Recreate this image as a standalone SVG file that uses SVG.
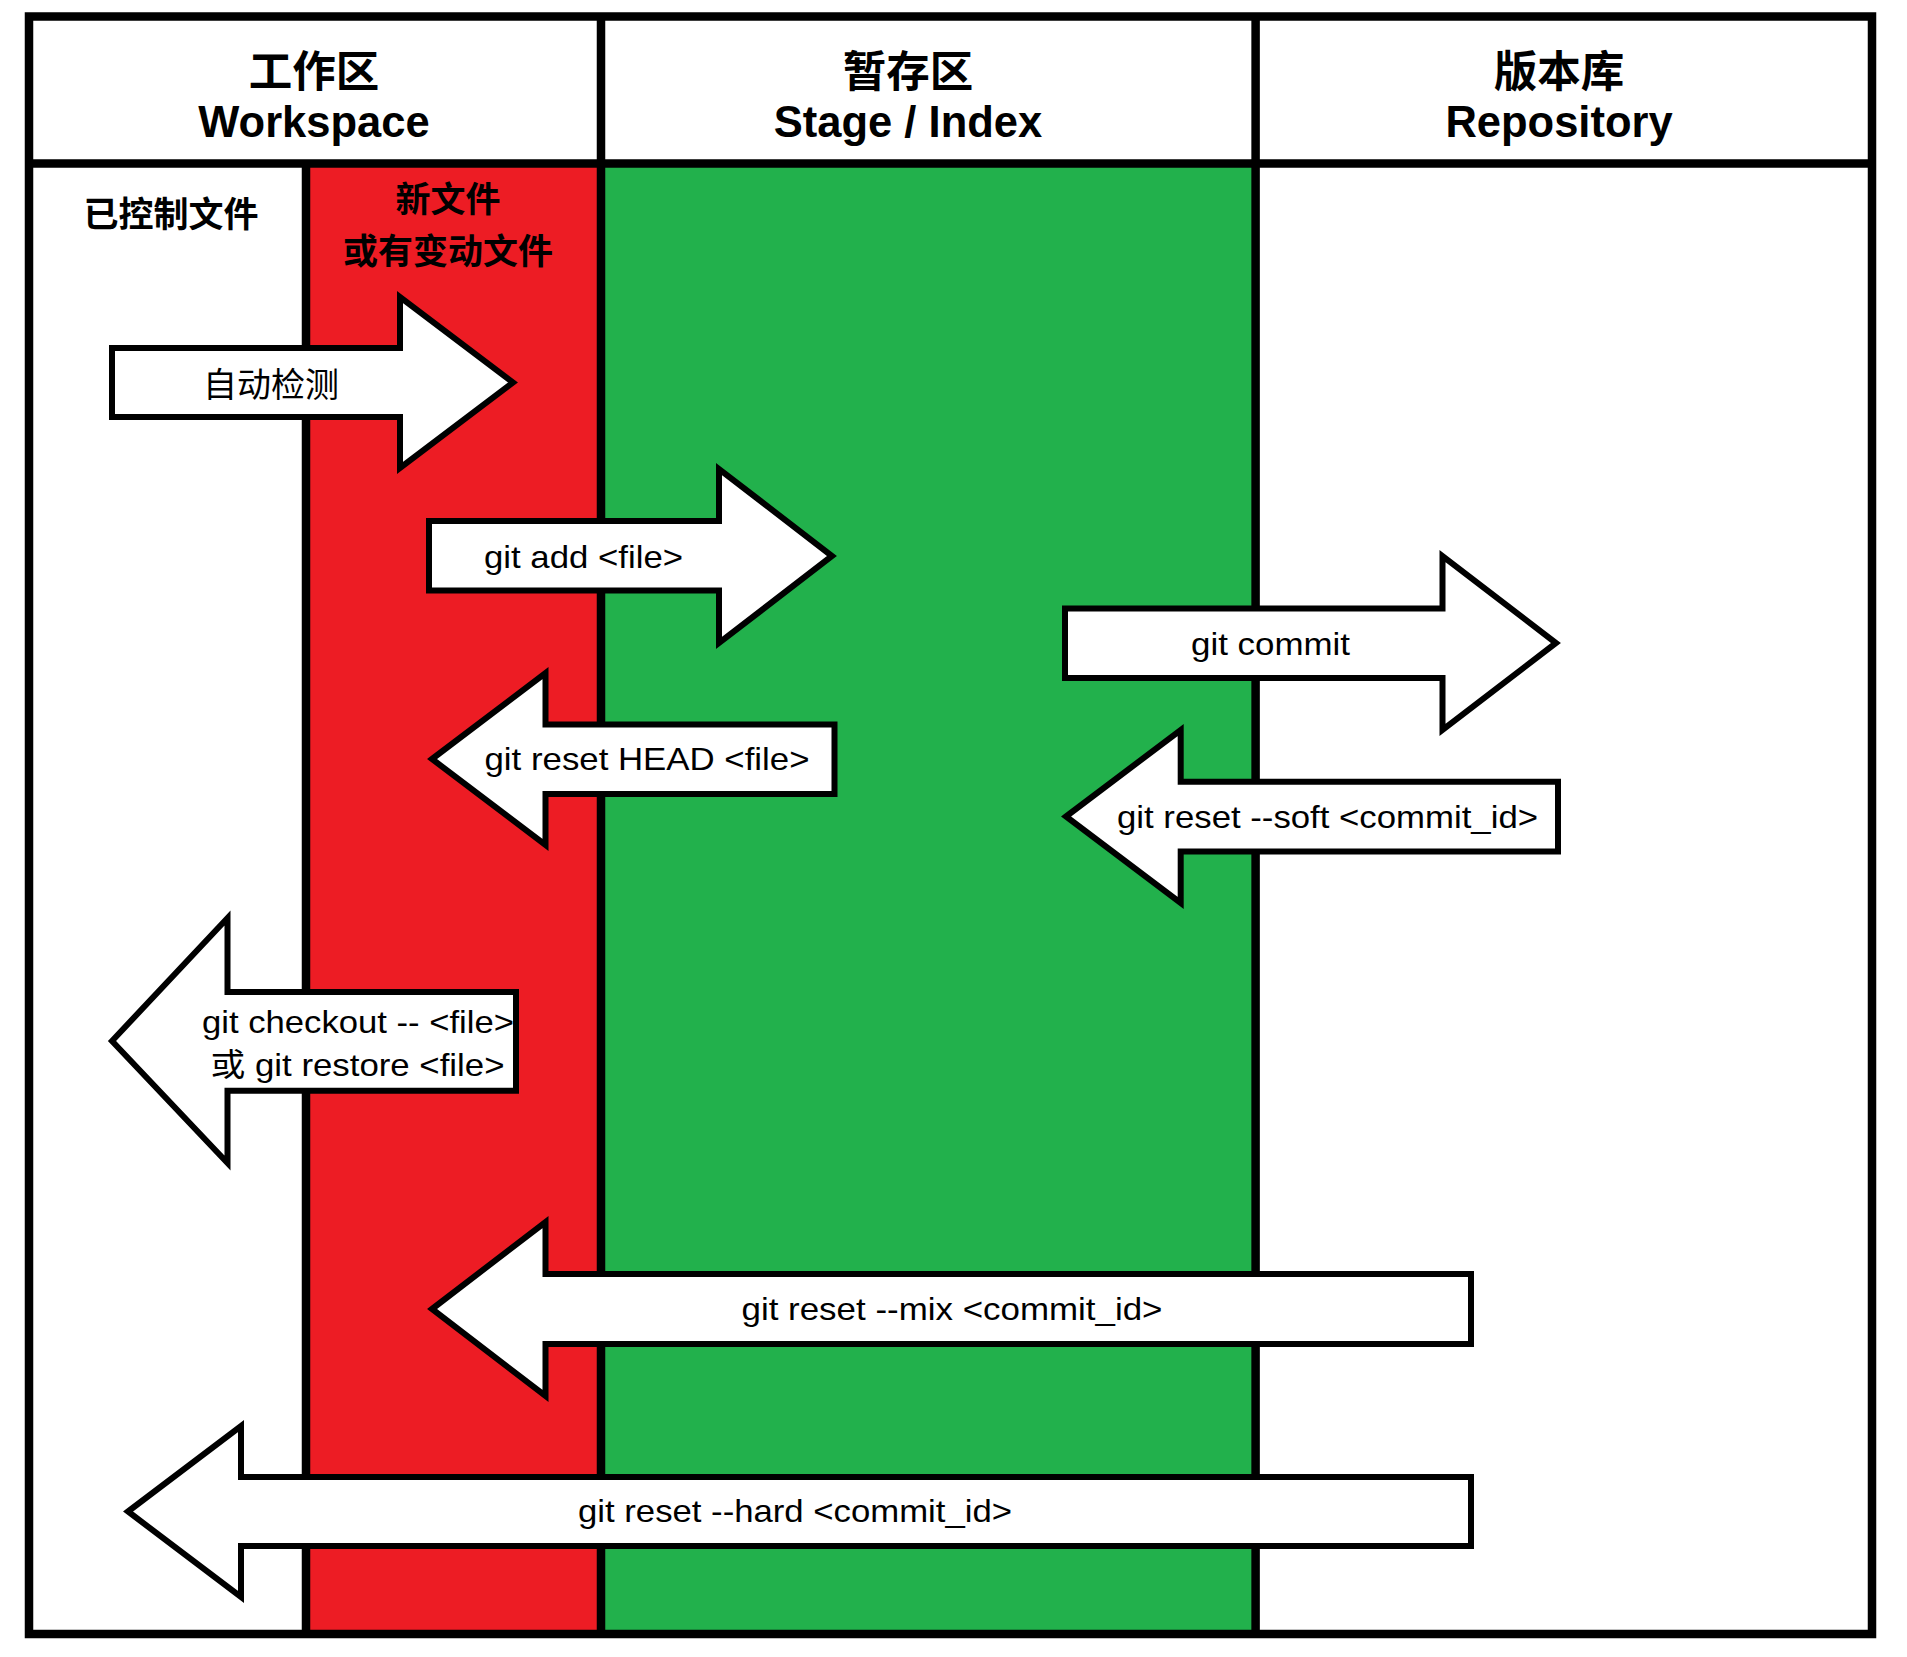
<svg xmlns="http://www.w3.org/2000/svg" width="1907" height="1657" viewBox="0 0 1907 1657">
<style>
.line{stroke:#000;stroke-width:8.5;fill:none}
.arrow{fill:#fff;stroke:#000;stroke-width:6;stroke-linejoin:miter;stroke-miterlimit:10}
.hd{font-family:"Liberation Sans",Arial,"Noto Sans CJK SC",sans-serif;font-weight:700;font-size:43.5px;text-anchor:middle;fill:#000}
.sub{font-family:"Noto Sans CJK SC","Liberation Sans",sans-serif;font-weight:700;font-size:35px;text-anchor:middle;fill:#000}
.lbl{font-family:"Liberation Sans",Arial,"Noto Sans CJK SC",sans-serif;font-size:32px;text-anchor:middle;fill:#000}
.cjk{font-family:"Noto Sans CJK SC",sans-serif;font-size:34px;text-anchor:middle;fill:#000}
</style>
<rect x="0" y="0" width="1907" height="1657" fill="#fff"/>
<g id="col-workspace">
<rect x="306" y="163.5" width="295" height="1470.5" fill="#ED1C24"/>
<text class="hd" x="314" y="87" style="font-family:'Noto Sans CJK SC',sans-serif">工作区</text>
<text class="hd" x="314" y="136.5">Workspace</text>
<text class="sub" x="171" y="227">已控制文件</text>
<text class="sub" x="448" y="212">新文件</text>
<text class="sub" x="448" y="264">或有变动文件</text>
</g>
<g id="col-stage">
<rect x="601" y="163.5" width="654.6" height="1470.5" fill="#22B14C"/>
<text class="hd" x="908" y="87" style="font-family:'Noto Sans CJK SC',sans-serif">暂存区</text>
<text class="hd" x="908" y="136.5">Stage / Index</text>
</g>
<g id="col-repo">
<text class="hd" x="1559" y="87" style="font-family:'Noto Sans CJK SC',sans-serif">版本库</text>
<text class="hd" x="1559" y="136.5">Repository</text>
</g>
<g id="grid">
<rect class="line" x="29" y="16.5" width="1843" height="1617.5"/>
<line class="line" x1="29" y1="163.5" x2="1872" y2="163.5"/>
<line class="line" x1="601" y1="16.5" x2="601" y2="1634"/>
<line class="line" x1="1255.6" y1="16.5" x2="1255.6" y2="1634"/>
<line class="line" x1="306" y1="163.5" x2="306" y2="1634"/>
</g>
<g id="connectors">
<g id="arrow-detect">
<polygon class="arrow" points="112,348 400,348 400,297 513,382.5 400,468 400,417 112,417"/>
<text class="cjk" x="271" y="397">自动检测</text>
</g>
<g id="arrow-add">
<polygon class="arrow" points="429,521 719,521 719,469 832,556 719,643 719,590.5 429,590.5"/>
<text class="lbl" x="583.5" y="567.5" textLength="199" lengthAdjust="spacingAndGlyphs">git add &lt;file&gt;</text>
</g>
<g id="arrow-commit">
<polygon class="arrow" points="1065,608.5 1442.5,608.5 1442.5,556 1556,643 1442.5,730 1442.5,678 1065,678"/>
<text class="lbl" x="1270.5" y="654.5" textLength="159" lengthAdjust="spacingAndGlyphs">git commit</text>
</g>
<g id="arrow-reset-head">
<polygon class="arrow" points="432,759 545.5,673 545.5,724.5 834.5,724.5 834.5,794 545.5,794 545.5,845"/>
<text class="lbl" x="647" y="770" textLength="325" lengthAdjust="spacingAndGlyphs">git reset HEAD &lt;file&gt;</text>
</g>
<g id="arrow-reset-soft">
<polygon class="arrow" points="1066,816.5 1180.7,730 1180.7,781.7 1558,781.7 1558,851.5 1180.7,851.5 1180.7,903"/>
<text class="lbl" x="1327.5" y="828" textLength="421" lengthAdjust="spacingAndGlyphs">git reset --soft &lt;commit_id&gt;</text>
</g>
<g id="arrow-checkout">
<polygon class="arrow" points="112,1041 227.5,918 227.5,992 516,992 516,1090.7 227.5,1090.7 227.5,1163"/>
<text class="lbl" x="358" y="1032.5" textLength="312" lengthAdjust="spacingAndGlyphs">git checkout -- &lt;file&gt;</text>
<text class="lbl" x="357.5" y="1076" textLength="294" lengthAdjust="spacingAndGlyphs">或 git restore &lt;file&gt;</text>
</g>
<g id="arrow-reset-mix">
<polygon class="arrow" points="432,1309 545.5,1222 545.5,1274 1471,1274 1471,1344 545.5,1344 545.5,1396"/>
<text class="lbl" x="952" y="1320" textLength="421" lengthAdjust="spacingAndGlyphs">git reset --mix &lt;commit_id&gt;</text>
</g>
<g id="arrow-reset-hard">
<polygon class="arrow" points="128,1511.5 241,1426 241,1477 1471,1477 1471,1546 241,1546 241,1597"/>
<text class="lbl" x="795" y="1521.5" textLength="434" lengthAdjust="spacingAndGlyphs">git reset --hard &lt;commit_id&gt;</text>
</g>
</g>
</svg>
